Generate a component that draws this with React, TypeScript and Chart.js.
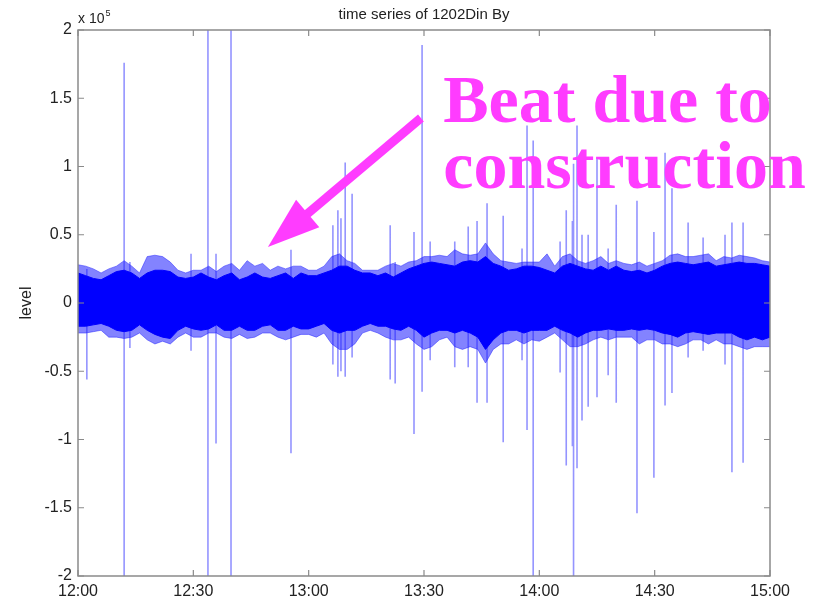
import React, { useEffect, useRef } from "react";
import { Chart, registerables } from "chart.js";

Chart.register(...registerables);

// ---- data (values in units of 1e5, time in minutes after 12:00) ----
const sampleMinutes = [
  0, 2, 4, 6, 8, 10, 12, 14, 16, 18, 20, 22, 24, 26, 28, 30, 32, 34, 36, 38, 40,
  42, 44, 46, 48, 50, 52, 54, 56, 58, 60, 62, 64, 66, 68, 70, 72, 74, 76, 78, 80,
  82, 84, 86, 88, 90, 92, 94, 96, 98, 100, 102, 104, 106, 108, 110, 112, 114, 116,
  118, 120, 122, 124, 126, 128, 130, 132, 134, 136, 138, 140, 142, 144, 146, 148,
  150, 152, 154, 156, 158, 160, 162, 164, 166, 168, 170, 172, 174, 176, 178, 180,
];

const coreTop = [
  0.22, 0.2, 0.18, 0.17, 0.2, 0.23, 0.24, 0.22, 0.18, 0.22, 0.24, 0.24, 0.23, 0.19, 0.18, 0.19,
  0.22, 0.19, 0.17, 0.2, 0.22, 0.17, 0.19, 0.22, 0.19, 0.18, 0.2, 0.22, 0.18, 0.22, 0.2,
  0.2, 0.22, 0.24, 0.27, 0.27, 0.24, 0.22, 0.22, 0.2, 0.22, 0.19, 0.22, 0.25, 0.27, 0.29,
  0.3, 0.29, 0.28, 0.27, 0.3, 0.31, 0.3, 0.34, 0.29, 0.27, 0.24, 0.25, 0.27, 0.27, 0.26,
  0.24, 0.22, 0.27, 0.29, 0.27, 0.25, 0.24, 0.27, 0.24, 0.27, 0.24, 0.23, 0.24, 0.22, 0.24,
  0.27, 0.29, 0.3, 0.29, 0.28, 0.29, 0.3, 0.27, 0.28, 0.29, 0.3, 0.29, 0.29, 0.28, 0.27,
];

const coreBottom = [
  -0.17, -0.17, -0.16, -0.15, -0.17, -0.2, -0.21, -0.2, -0.16, -0.2, -0.23, -0.25, -0.26, -0.2,
  -0.17, -0.19, -0.2, -0.19, -0.16, -0.2, -0.2, -0.17, -0.2, -0.2, -0.17, -0.16, -0.2, -0.2,
  -0.17, -0.19, -0.19,
  -0.17, -0.15, -0.2, -0.22, -0.2, -0.2, -0.17, -0.15, -0.17, -0.17, -0.19, -0.2, -0.17, -0.2,
  -0.25, -0.22, -0.2, -0.2, -0.22, -0.2, -0.22, -0.25, -0.34, -0.27, -0.22, -0.2, -0.2, -0.22,
  -0.2, -0.2,
  -0.2, -0.17, -0.2, -0.22, -0.25, -0.22, -0.2, -0.2, -0.19, -0.2, -0.2, -0.19, -0.2, -0.19,
  -0.2, -0.22, -0.23, -0.25, -0.22, -0.21, -0.22, -0.23, -0.22, -0.22, -0.22, -0.25, -0.27,
  -0.25, -0.27, -0.25,
];

const fringeTop = [
  0.28, 0.27, 0.25, 0.22, 0.25, 0.27, 0.31, 0.27, 0.22, 0.34, 0.35, 0.34, 0.3, 0.24, 0.22, 0.24,
  0.24, 0.27, 0.23, 0.27, 0.29, 0.24, 0.31, 0.27, 0.29, 0.24, 0.27, 0.25, 0.27, 0.27, 0.24,
  0.24, 0.27, 0.34, 0.36, 0.31, 0.29, 0.24, 0.24, 0.24, 0.27, 0.29, 0.27, 0.3, 0.31, 0.34,
  0.34, 0.35, 0.34, 0.39, 0.36, 0.35, 0.36, 0.44, 0.36, 0.31, 0.3, 0.29, 0.3, 0.3, 0.3,
  0.36, 0.27, 0.34, 0.36, 0.31, 0.29, 0.31, 0.34, 0.29, 0.31, 0.29, 0.28, 0.3, 0.27, 0.29,
  0.31, 0.35, 0.36, 0.34, 0.34, 0.35, 0.36, 0.31, 0.34, 0.33, 0.35, 0.34, 0.33, 0.31, 0.3,
];

const fringeBottom = [
  -0.22, -0.22, -0.21, -0.2, -0.25, -0.25, -0.26, -0.25, -0.22, -0.27, -0.3, -0.28, -0.3, -0.25,
  -0.22, -0.25, -0.25, -0.22, -0.22, -0.25, -0.26, -0.23, -0.26, -0.25, -0.22, -0.22, -0.25,
  -0.27, -0.25, -0.23, -0.23,
  -0.25, -0.22, -0.3, -0.34, -0.34, -0.3, -0.22, -0.2, -0.22, -0.25, -0.27, -0.27, -0.25, -0.3,
  -0.34, -0.32, -0.27, -0.25, -0.32, -0.34, -0.32, -0.34, -0.44, -0.34, -0.3, -0.3, -0.27, -0.3,
  -0.27, -0.28,
  -0.25, -0.22, -0.27, -0.32, -0.32, -0.3, -0.27, -0.25, -0.27, -0.25, -0.25, -0.25, -0.3, -0.27,
  -0.27, -0.3, -0.3, -0.32, -0.3, -0.27, -0.27, -0.3, -0.27, -0.3, -0.3, -0.32, -0.34, -0.32,
  -0.32, -0.32,
];

const spikeMinutes = [
  2.3, 12.0, 13.5, 29.4, 33.8, 35.9, 39.8, 55.4, 66.3, 67.6, 68.4, 69.5, 71.3, 81.2, 82.5, 87.4,
  89.5, 91.6, 98.0, 101.5, 103.8, 106.4, 110.6, 115.5, 116.8, 118.4, 125.4, 127.0, 128.6, 128.9,
  129.8, 131.1, 132.7, 135.0, 137.9, 140.0, 145.4, 149.8, 152.7, 154.5, 158.7, 162.6, 168.3,
  170.1, 173.0,
];
const spikeTops = [
  0.25, 1.76, 0.3, 0.36, 2.1, 0.36, 2.1, 0.39, 0.57, 0.68, 0.62, 1.03, 0.8, 0.57, 0.3, 0.52,
  1.89, 0.45, 0.45, 0.56, 0.6, 0.73, 0.64, 0.4, 1.3, 1.19, 0.45, 0.68, 0.6, 1.02,
  1.3, 0.5, 0.5, 1.06, 0.4, 0.72, 0.75, 0.52, 1.1, 0.84, 0.59, 0.48, 0.5,
  0.59, 0.59,
];
const spikeBottoms = [
  -0.56, -2.1, -0.33, -0.35, -2.1, -1.03, -2.1, -1.1, -0.45, -0.54, -0.5, -0.54, -0.4, -0.56,
  -0.59, -0.96, -0.65, -0.42, -0.47, -0.47, -0.73, -0.73, -1.02, -0.42, -0.93, -2.1, -0.51,
  -1.19, -1.05, -2.1, -1.21, -0.86, -0.76, -0.69, -0.53, -0.73, -1.54, -1.28, -0.75, -0.66,
  -0.4, -0.35, -0.45, -1.24, -1.17,
];

const xTickMinutes = [0, 30, 60, 90, 120, 150, 180];
const xTickLabels = ["12:00", "12:30", "13:00", "13:30", "14:00", "14:30", "15:00"];
const yTickValues = [-2, -1.5, -1, -0.5, 0, 0.5, 1, 1.5, 2];
const yTickLabels = ["-2", "-1.5", "-1", "-0.5", "0", "0.5", "1", "1.5", "2"];

const TITLE = "time series of 1202Din By";
const Y_LABEL = "level";
const EXPONENT_BASE = "x 10";
const EXPONENT_POWER = "5";
const NOTE_LINES = ["Beat due to", "construction"];
// annotation anchors in data units (minutes, 1e5)
const NOTE_ANCHOR = { x: 95.0, y: 1.326 };
const ARROW_TAIL = { x: 89.2, y: 1.355 };
const ARROW_TIP = { x: 49.4, y: 0.41 };

const SANS = "'Liberation Sans', Arial, Helvetica, sans-serif";
const MAGENTA = "#ff3cff";

function buildSeries(ys: number[]) {
  return sampleMinutes.map((m, i) => ({ x: m, y: ys[i] }));
}

function buildSpikes() {
  const pts: { x: number; y: number | null }[] = [];
  spikeMinutes.forEach((m, i) => {
    pts.push({ x: m, y: spikeBottoms[i] });
    pts.push({ x: m, y: spikeTops[i] });
    pts.push({ x: m, y: null });
  });
  return pts;
}

const decorPlugin = {
  id: "matlabDecor",
  afterDraw(chart: any) {
    const ctx: CanvasRenderingContext2D = chart.ctx;
    const { left, right, top, bottom } = chart.chartArea;
    const xs = chart.scales.x;
    const ys = chart.scales.y;
    ctx.save();
    // box
    ctx.strokeStyle = "#8a8a8a";
    ctx.lineWidth = 1.5;
    ctx.strokeRect(left, top, right - left, bottom - top);
    // inward ticks
    ctx.lineWidth = 1.2;
    ctx.beginPath();
    xTickMinutes.forEach((m) => {
      const px = xs.getPixelForValue(m);
      ctx.moveTo(px, bottom);
      ctx.lineTo(px, bottom - 6);
      ctx.moveTo(px, top);
      ctx.lineTo(px, top + 6);
    });
    yTickValues.forEach((v) => {
      const py = ys.getPixelForValue(v);
      ctx.moveTo(left, py);
      ctx.lineTo(left + 6, py);
      ctx.moveTo(right, py);
      ctx.lineTo(right - 6, py);
    });
    ctx.stroke();

    // title
    ctx.fillStyle = "#222";
    ctx.font = `15px ${SANS}`;
    ctx.textAlign = "center";
    ctx.textBaseline = "middle";
    ctx.fillText(TITLE, (left + right) / 2, 15);

    // exponent
    ctx.textAlign = "left";
    ctx.textBaseline = "alphabetic";
    ctx.font = `14px ${SANS}`;
    ctx.fillText(EXPONENT_BASE, left, 23);
    const w = ctx.measureText(EXPONENT_BASE).width;
    ctx.font = `9px ${SANS}`;
    ctx.fillText(EXPONENT_POWER, left + w + 1, 16);

    // y label
    ctx.save();
    ctx.translate(27, (top + bottom) / 2);
    ctx.rotate(-Math.PI / 2);
    ctx.font = `16px ${SANS}`;
    ctx.textAlign = "center";
    ctx.textBaseline = "middle";
    ctx.fillText(Y_LABEL, 0, 0);
    ctx.restore();

    // annotation arrow
    const tx = xs.getPixelForValue(ARROW_TAIL.x);
    const ty = ys.getPixelForValue(ARROW_TAIL.y);
    const hx = xs.getPixelForValue(ARROW_TIP.x);
    const hy = ys.getPixelForValue(ARROW_TIP.y);
    const dx = hx - tx;
    const dy = hy - ty;
    const len = Math.hypot(dx, dy);
    const ux = dx / len;
    const uy = dy / len;
    const headLen = 52;
    const headHalf = 18;
    const bx = hx - ux * headLen;
    const by = hy - uy * headLen;
    ctx.strokeStyle = MAGENTA;
    ctx.fillStyle = MAGENTA;
    ctx.lineWidth = 9;
    ctx.lineCap = "butt";
    ctx.beginPath();
    ctx.moveTo(tx, ty);
    ctx.lineTo(bx + ux * 4, by + uy * 4);
    ctx.stroke();
    ctx.beginPath();
    ctx.moveTo(hx, hy);
    ctx.lineTo(bx - uy * headHalf, by + ux * headHalf);
    ctx.lineTo(bx + uy * headHalf, by - ux * headHalf);
    ctx.closePath();
    ctx.fill();

    // annotation text
    const nx = xs.getPixelForValue(NOTE_ANCHOR.x);
    const ny = ys.getPixelForValue(NOTE_ANCHOR.y);
    ctx.font = `bold 68px 'Liberation Serif', 'Times New Roman', serif`;
    ctx.textAlign = "left";
    ctx.textBaseline = "alphabetic";
    NOTE_LINES.forEach((line, i) => {
      ctx.fillText(line, nx, ny + i * 66);
    });
    ctx.restore();
  },
};

export default function App() {
  const canvasRef = useRef<HTMLCanvasElement | null>(null);

  useEffect(() => {
    document.body.style.margin = "0";
    const canvas = canvasRef.current;
    if (!canvas) return;
    const chart = new Chart(canvas, {
      type: "line",
      data: {
        datasets: [
          {
            label: "core upper",
            data: buildSeries(coreTop),
            borderColor: "#0000ff",
            backgroundColor: "#0000ff",
            borderWidth: 1,
            pointRadius: 0,
            fill: "+1",
            order: 1,
          },
          {
            label: "core lower",
            data: buildSeries(coreBottom),
            borderColor: "#0000ff",
            backgroundColor: "#0000ff",
            borderWidth: 1,
            pointRadius: 0,
            fill: false,
            order: 1,
          },
          {
            label: "fringe upper",
            data: buildSeries(fringeTop),
            borderColor: "rgba(40,40,255,0.5)",
            backgroundColor: "rgba(30,30,255,0.55)",
            borderWidth: 1,
            pointRadius: 0,
            fill: "+1",
            order: 2,
          },
          {
            label: "fringe lower",
            data: buildSeries(fringeBottom),
            borderColor: "rgba(40,40,255,0.5)",
            backgroundColor: "rgba(30,30,255,0.55)",
            borderWidth: 1,
            pointRadius: 0,
            fill: false,
            order: 2,
          },
          {
            label: "spikes",
            data: buildSpikes(),
            borderColor: "rgba(60,60,255,0.55)",
            borderWidth: 1.6,
            pointRadius: 0,
            fill: false,
            spanGaps: false,
            order: 3,
          },
        ],
      },
      options: {
        animation: false,
        responsive: false,
        maintainAspectRatio: false,
        events: [],
        layout: { padding: { left: 0, right: 45, top: 30, bottom: 0 } },
        plugins: {
          legend: { display: false },
          tooltip: { enabled: false },
          title: { display: false },
        },
        elements: { line: { tension: 0 } },
        scales: {
          x: {
            type: "linear",
            min: 0,
            max: 180,
            grid: { display: false, drawTicks: false },
            border: { display: false },
            afterFit: (s: any) => {
              s.height = 26;
            },
            afterBuildTicks: (s: any) => {
              s.ticks = xTickMinutes.map((v) => ({ value: v }));
            },
            ticks: {
              autoSkip: false,
              maxRotation: 0,
              padding: 6,
              color: "#222",
              font: { family: SANS, size: 16 },
              callback: (v: any) => {
                const i = xTickMinutes.indexOf(Number(v));
                return i >= 0 ? xTickLabels[i] : "";
              },
            },
          },
          y: {
            type: "linear",
            min: -2,
            max: 2,
            grid: { display: false, drawTicks: false },
            border: { display: false },
            afterFit: (s: any) => {
              s.width = 78;
            },
            afterBuildTicks: (s: any) => {
              s.ticks = yTickValues.map((v) => ({ value: v }));
            },
            ticks: {
              autoSkip: false,
              padding: 6,
              color: "#222",
              font: { family: SANS, size: 16 },
              callback: (v: any) => {
                const i = yTickValues.indexOf(Number(v));
                return i >= 0 ? yTickLabels[i] : "";
              },
            },
          },
        },
      },
      plugins: [decorPlugin],
    });
    return () => chart.destroy();
  }, []);

  return (
    <div style={{ position: "absolute", left: 0, top: 0, width: 815, height: 602, background: "#fff" }}>
      <canvas ref={canvasRef} width={815} height={602} style={{ display: "block" }} />
    </div>
  );
}
